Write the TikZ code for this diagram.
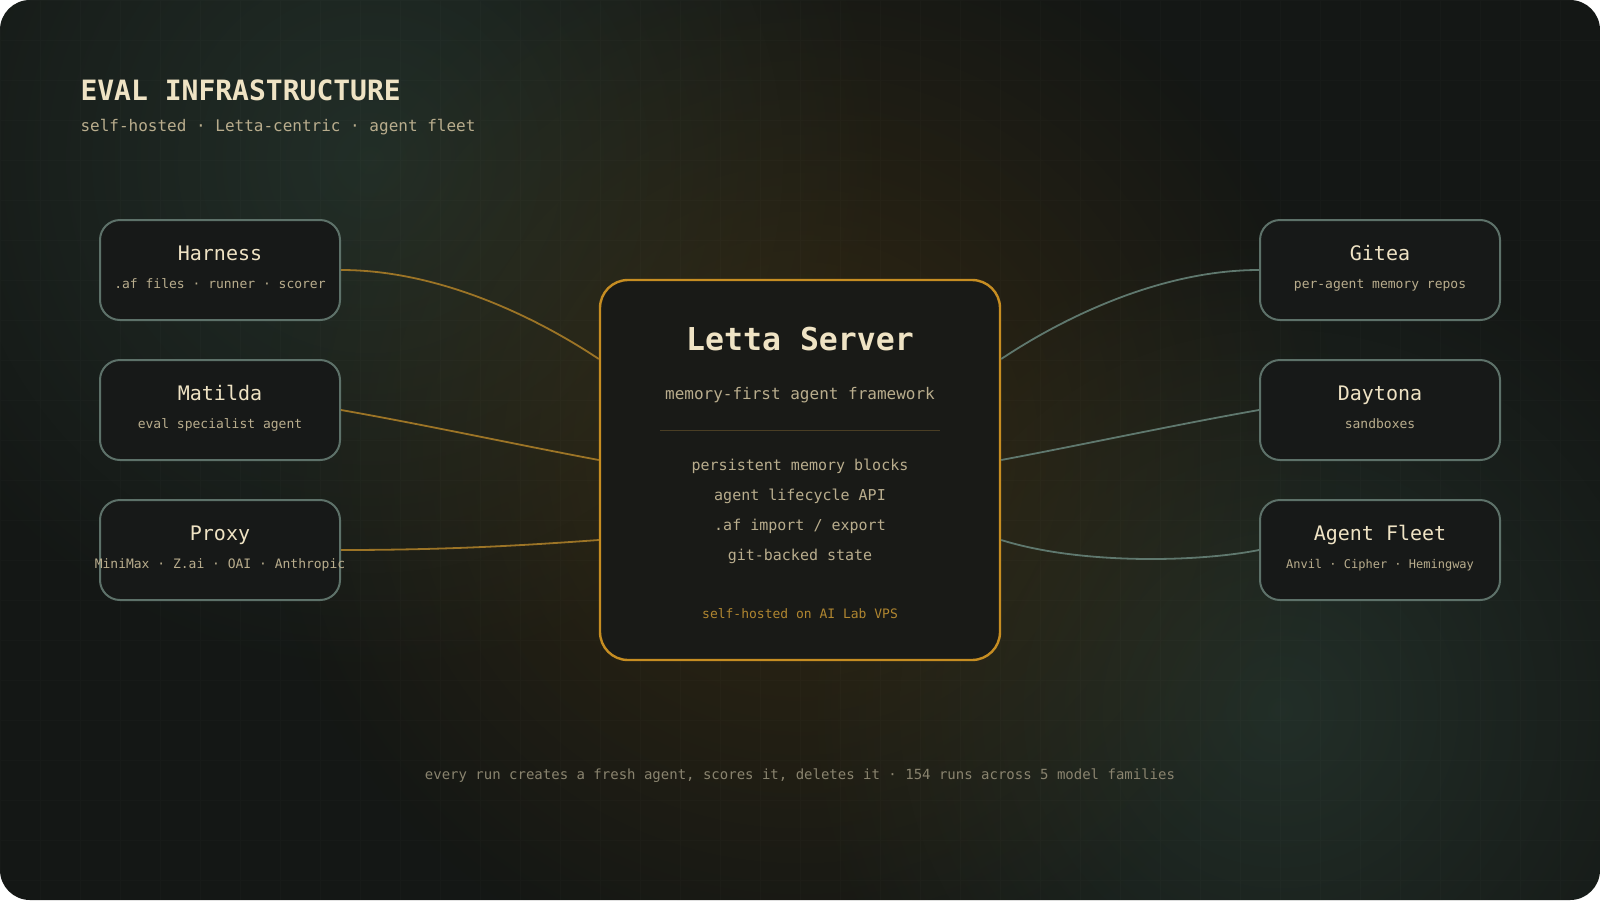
\documentclass[tikz,border=0pt]{standalone}
\usepackage{fontspec}
\setmainfont{DejaVu Sans Mono}
\usetikzlibrary{positioning, fadings}
\definecolor{bgcol}{HTML}{141715}
\definecolor{glowgreen}{HTML}{2E4238}
\definecolor{glowamber}{HTML}{4A3510}
\definecolor{boxfill}{HTML}{171918}
\definecolor{srvfill}{HTML}{191A17}
\definecolor{boxline}{HTML}{5D7169}
\definecolor{srvline}{HTML}{C68D22}
\definecolor{linkamber}{HTML}{9C7426}
\definecolor{linkgreen}{HTML}{5F786E}
\definecolor{textmain}{HTML}{EFE3C4}
\definecolor{textsub}{HTML}{B9AD8D}
\definecolor{textamber}{HTML}{B08630}
\definecolor{textfoot}{HTML}{8A846F}
\definecolor{rulecol}{HTML}{4A3E24}
\tikzfading[name=glowfade, inner color=transparent!45, outer color=transparent!100]
\newcommand*{\fsz}[1]{\fontsize{#1}{#1}\selectfont}

\begin{document}
\begin{tikzpicture}[
    x=1pt, y=-1pt, node distance=140pt, on grid,
    side/.style={draw=boxline, line width=2pt, fill=boxfill, rounded corners=20pt,
      minimum width=240pt, minimum height=100pt},
    hub/.style={draw=srvline, line width=2.4pt, fill=srvfill, rounded corners=28pt,
      minimum width=400pt, minimum height=380pt},
    btitle/.style={anchor=base, text=textmain, font=\fsz{20}},
    bsub/.style={anchor=base, text=textsub, font=\fsz{13}},
    hubtext/.style={anchor=base, text=textsub, font=\fsz{15}},
    linkl/.style={draw=linkamber, line width=1.8pt},
    linkr/.style={draw=linkgreen, line width=1.8pt},
  ]
  \useasboundingbox (0,0) rectangle (1600,900);

  % background, glows and faint grid
  \fill[bgcol, rounded corners=30pt] (0,0) rectangle (1600,900);
  \begin{scope}
    \clip[rounded corners=30pt] (0,0) rectangle (1600,900);
    \fill[glowgreen, path fading=glowfade] (370,160) circle (520);
    \fill[glowgreen, path fading=glowfade] (1280,710) circle (480);
    \fill[glowamber, path fading=glowfade] (800,450) circle (540);
    \draw[white, opacity=0.015, line width=0.6pt, step=40pt] (0,0) grid (1600,900);
  \end{scope}

  % heading
  \node[anchor=base west, text=textmain, font=\fsz{28}\bfseries] (head) at (77,100) {EVAL INFRASTRUCTURE};
  \node[anchor=base west, text=textsub, font=\fsz{16}] (subhead) at (77,131) {self-hosted · Letta-centric · agent fleet};

  % boxes
  \node[hub] (srv) at (800,470) {};
  \node[side] (harness) at (220,270) {};
  \node[side, below=of harness] (matilda) {};
  \node[side, below=of matilda] (proxy) {};
  \node[side] (gitea) at (1380,270) {};
  \node[side, below=of gitea] (daytona) {};
  \node[side, below=of daytona] (fleet) {};

  % box texts
  \node[btitle] (harness_t) at ([yshift=10pt]harness.center) {Harness};
  \node[bsub]   (harness_s) at ([yshift=-18pt]harness.center) {.af files · runner · scorer};
  \node[btitle] (matilda_t) at ([yshift=10pt]matilda.center) {Matilda};
  \node[bsub]   (matilda_s) at ([yshift=-18pt]matilda.center) {eval specialist agent};
  \node[btitle] (proxy_t) at ([yshift=10pt]proxy.center) {Proxy};
  \node[bsub]   (proxy_s) at ([yshift=-18pt]proxy.center) {MiniMax · Z.ai · OAI · Anthropic};
  \node[btitle] (gitea_t) at ([yshift=10pt]gitea.center) {Gitea};
  \node[bsub]   (gitea_s) at ([yshift=-18pt]gitea.center) {per-agent memory repos};
  \node[btitle] (daytona_t) at ([yshift=10pt]daytona.center) {Daytona};
  \node[bsub]   (daytona_s) at ([yshift=-18pt]daytona.center) {sandboxes};
  \node[btitle] (fleet_t) at ([yshift=10pt]fleet.center) {Agent Fleet};
  \node[bsub, font=\fsz{12}] (fleet_s) at ([yshift=-18pt]fleet.center) {Anvil · Cipher · Hemingway};

  % server texts
  \node[anchor=base, text=textmain, font=\fsz{31.5}\bfseries] (srv_t) at ([yshift=120pt]srv.center) {Letta Server};
  \node[anchor=base, text=textsub, font=\fsz{16}] (srv_s) at ([yshift=71pt]srv.center) {memory-first agent framework};
  \coordinate (rule_l) at ([xshift=-140pt, yshift=40pt]srv.center);
  \coordinate (rule_r) at ([xshift=140pt, yshift=40pt]srv.center);
  \draw[rulecol, line width=1pt] (rule_l) -- (rule_r);
  \node[hubtext] (srv_1) at ([yshift=0pt]srv.center) {persistent memory blocks};
  \node[hubtext] (srv_2) at ([yshift=-30pt]srv.center) {agent lifecycle API};
  \node[hubtext] (srv_3) at ([yshift=-60pt]srv.center) {.af import / export};
  \node[hubtext] (srv_4) at ([yshift=-90pt]srv.center) {git-backed state};
  \node[anchor=base, text=textamber, font=\fsz{13}] (srv_host) at ([yshift=-148pt]srv.center) {self-hosted on AI Lab VPS};

  % connectors
  \coordinate (srv_w1) at ([yshift=111pt]srv.west);
  \coordinate (srv_w2) at ([yshift=10pt]srv.west);
  \coordinate (srv_w3) at ([yshift=-70pt]srv.west);
  \coordinate (srv_e1) at ([yshift=111pt]srv.east);
  \coordinate (srv_e2) at ([yshift=10pt]srv.east);
  \coordinate (srv_e3) at ([yshift=-70pt]srv.east);
  \path[linkl] (harness.east) .. controls +(100,0) and +(-60,-40) .. (srv_w1)
    (matilda.east) .. controls +(80,14) and +(-80,-15) .. (srv_w2)
    (proxy.east) .. controls +(110,0) and +(-70,5) .. (srv_w3);
  \path[linkr] (srv_e1) .. controls +(60,-40) and +(-100,0) .. (gitea.west)
    (srv_e2) .. controls +(80,-15) and +(-80,14) .. (daytona.west)
    (srv_e3) .. controls +(80,25) and +(-60,12) .. (fleet.west);

  % footer
  \node[anchor=base, text=textfoot, font=\fsz{14}] (foot) at (800,779)
    {every run creates a fresh agent, scores it, deletes it · 154 runs across 5 model families};
\end{tikzpicture}
\end{document}
